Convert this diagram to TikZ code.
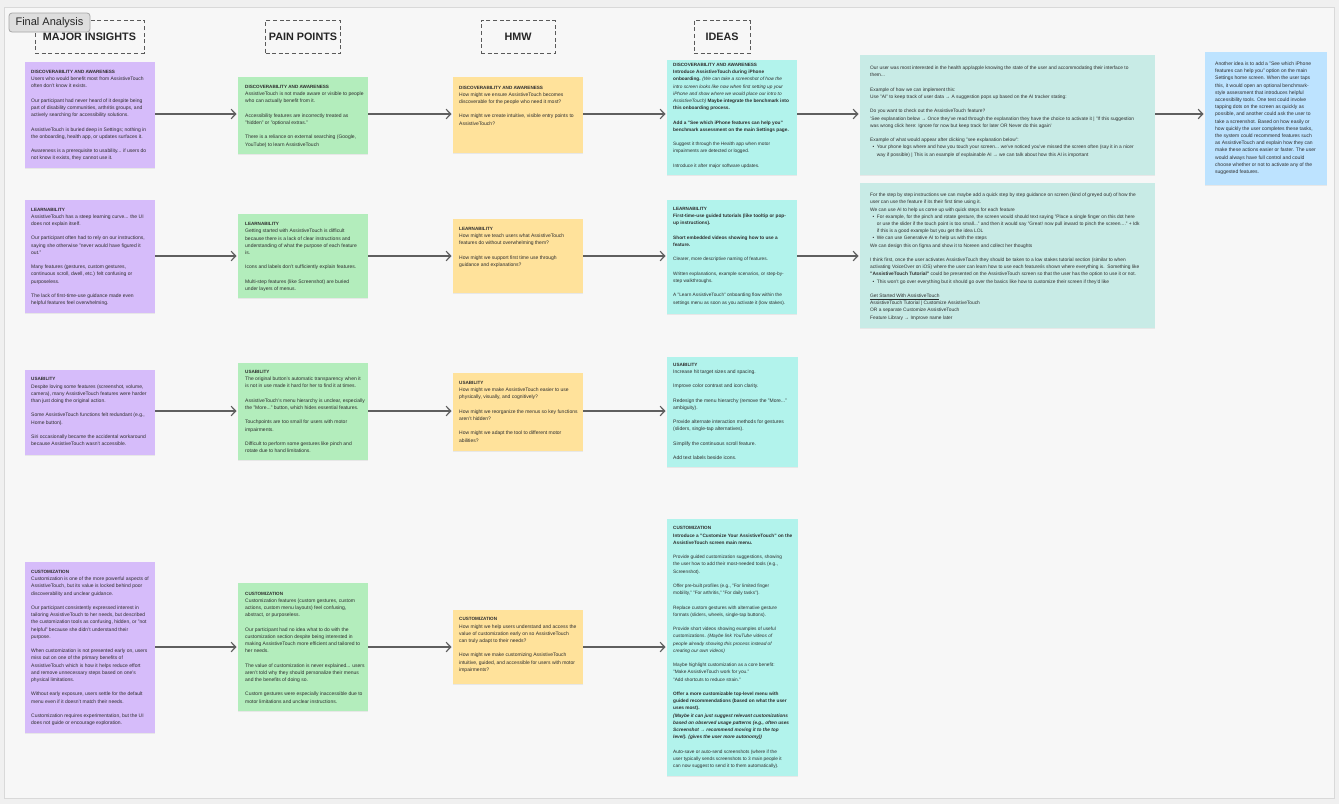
\documentclass[tikz,border=0pt]{standalone}
\usepackage{fontspec}
\setmainfont{Liberation Sans}
\usetikzlibrary{arrows.meta,shadows}
\definecolor{bgc}{RGB}{240,240,240}
\definecolor{canvasc}{RGB}{247,247,247}
\definecolor{purp}{RGB}{214,188,250}
\definecolor{grn}{RGB}{179,237,188}
\definecolor{yel}{RGB}{255,226,155}
\definecolor{cyn}{RGB}{178,243,236}
\definecolor{tea}{RGB}{200,235,230}
\definecolor{blu}{RGB}{189,227,255}
\definecolor{txt}{RGB}{45,45,45}
\definecolor{arr}{RGB}{95,95,95}
\definecolor{hdr}{RGB}{90,90,90}
\newcommand\pgap{\\[7.2pt]}
\newcommand\nhd[1]{{\fontsize{4.6}{7.2}\selectfont\bfseries #1}}
\newcommand\bul{\hspace*{2.3pt}•\hspace*{2.7pt}}
\newcommand\bcont{\hspace*{6.7pt}}
\tikzset{
  sticky/.style={anchor=north west, inner sep=0pt, outer sep=0pt, draw=none,
    drop shadow={opacity=0.13, shadow xshift=0.4pt, shadow yshift=-1.2pt}},
  notetext/.style={anchor=north west, inner sep=0pt, align=left, text=txt,
    font=\fontsize{5.0}{7.2}\selectfont},
  widetext/.style={notetext, font=\fontsize{4.85}{7.2}\selectfont},
  idtext/.style={notetext, font=\fontsize{4.75}{7.2}\selectfont},
  hdrbox/.style={draw=hdr, line width=1pt, dash pattern=on 4pt off 2.6pt,
    font=\fontsize{10.8}{13}\selectfont\bfseries, text=black!85,
    minimum height=33pt, inner sep=0pt},
  falabel/.style={draw=black!35, fill=black!13, rounded corners=3pt, line width=0.8pt,
    minimum width=81pt, minimum height=19pt, inner sep=0pt,
    font=\fontsize{11}{13}\selectfont, text=black!85},
  flow/.style={draw=arr, line width=1.2pt,
    -{Straight Barb[length=4.5pt,width=9.5pt,line width=1.2pt]}, shorten >=1.5pt}
}
\begin{document}
\begin{tikzpicture}[x=1pt,y=-1pt]
\useasboundingbox (0,0) rectangle (1339,804);
\fill[bgc] (0,0) rectangle (1339,804);
\draw[black!15, fill=canvasc] (4,7) rectangle (1334,798);

% headers
\node[hdrbox, minimum width=109pt] (h1) at (89.5,36.5) {MAJOR INSIGHTS};
\node[hdrbox, minimum width=75pt] (h2) at (303,37) {PAIN POINTS};
\node[hdrbox, minimum width=74pt] (h3) at (518,37) {HMW};
\node[hdrbox, minimum width=56pt] (h4) at (722,37) {IDEAS};
\node[falabel] (fa) at (49.5,22.5) {Final Analysis};

% ===== column 1 : purple
\node[sticky, fill=purp, minimum width=130pt, minimum height=106pt] (p1) at (25,62) {};
\node[notetext] (p1t) at (31,70.1) {\nhd{DISCOVERABILITY AND AWARENESS}\\
Users who would benefit most from AssistiveTouch\\
often don't know it exists.\pgap
Our participant had never heard of it despite being\\
part of disability communities, arthritis groups, and\\
actively searching for accessibility solutions.\pgap
AssistiveTouch is buried deep in Settings; nothing in\\
the onboarding, health app, or updates surfaces it.\pgap
Awareness is a prerequisite to usability... if users do\\
not know it exists, they cannot use it.};

\node[sticky, fill=purp, minimum width=130pt, minimum height=113pt] (p2) at (25,200) {};
\node[notetext] (p2t) at (31,207.7) {\nhd{LEARNABILITY}\\
AssistiveTouch has a steep learning curve... the UI\\
does not explain itself.\pgap
Our participant often had to rely on our instructions,\\
saying she otherwise "never would have figured it\\
out."\pgap
Many features (gestures, custom gestures,\\
continuous scroll, dwell, etc.) felt confusing or\\
purposeless.\pgap
The lack of first-time-use guidance made even\\
helpful features feel overwhelming.};

\node[sticky, fill=purp, minimum width=130pt, minimum height=85pt] (p3) at (25,370) {};
\node[notetext] (p3t) at (31,377.4) {\nhd{USABILITY}\\
Despite loving some features (screenshot, volume,\\
camera), many AssistiveTouch features were harder\\
than just doing the original action.\pgap
Some AssistiveTouch functions felt redundant (e.g.,\\
Home button).\pgap
Siri occasionally became the accidental workaround\\
because AssistiveTouch wasn't accessible.};

\node[sticky, fill=purp, minimum width=130pt, minimum height=171pt] (p4) at (25,562) {};
\node[notetext] (p4t) at (31,570.1) {\nhd{CUSTOMIZATION}\\
Customization is one of the more powerful aspects of\\
AssistiveTouch, but its value is locked behind poor\\
discoverability and unclear guidance.\pgap
Our participant consistently expressed interest in\\
tailoring AssistiveTouch to her needs, but described\\
the customization tools as confusing, hidden, or "not\\
helpful" because she didn't understand their\\
purpose.\pgap
When customization is not presented early on, users\\
miss out on one of the primary benefits of\\
AssistiveTouch which is how it helps reduce effort\\
and remove unnecessary steps based on one's\\
physical limitations.\pgap
Without early exposure, users settle for the default\\
menu even if it doesn't match their needs.\pgap
Customization requires experimentation, but the UI\\
does not guide or encourage exploration.};

% ===== column 2 : green
\node[sticky, fill=grn, minimum width=130pt, minimum height=77pt] (g1) at (238,77) {};
\node[notetext] (g1t) at (245,85.1) {\nhd{DISCOVERABILITY AND AWARENESS}\\
AssistiveTouch is not made aware or visible to people\\
who can actually benefit from it.\pgap
Accessibility features are incorrectly treated as\\
"hidden" or "optional extras."\pgap
There is a reliance on external searching (Google,\\
YouTube) to learn AssistiveTouch};

\node[sticky, fill=grn, minimum width=130pt, minimum height=84pt] (g2) at (238,214) {};
\node[notetext] (g2t) at (245,222.4) {\nhd{LEARNABILITY}\\
Getting started with AssistiveTouch is difficult\\
because there is a lack of clear instructions and\\
understanding of what the purpose of each feature\\
is.\pgap
Icons and labels don't sufficiently explain features.\pgap
Multi-step features (like Screenshot) are buried\\
under layers of menus.};

\node[sticky, fill=grn, minimum width=130pt, minimum height=97pt] (g3) at (238,363) {};
\node[notetext] (g3t) at (245,370.1) {\nhd{USABILITY}\\
The original button's automatic transparency when it\\
is not in use made it hard for her to find it at times.\pgap
AssistiveTouch's menu hierarchy is unclear, especially\\
the "More..." button, which hides essential features.\pgap
Touchpoints are too small for users with motor\\
impairments.\pgap
Difficult to perform some gestures like pinch and\\
rotate due to hand limitations.};

\node[sticky, fill=grn, minimum width=130pt, minimum height=128pt] (g4) at (238,583) {};
\node[notetext] (g4t) at (245,591.7) {\nhd{CUSTOMIZATION}\\
Customization features (custom gestures, custom\\
actions, custom menu layouts) feel confusing,\\
abstract, or purposeless.\pgap
Our participant had no idea what to do with the\\
customization section despite being interested in\\
making AssistiveTouch more efficient and tailored to\\
her needs.\pgap
The value of customization is never explained... users\\
aren't told why they should personalize their menus\\
and the benefits of doing so.\pgap
Custom gestures were especially inaccessible due to\\
motor limitations and unclear instructions.};

% ===== column 3 : yellow
\node[sticky, fill=yel, minimum width=130pt, minimum height=76pt] (y1) at (453,77) {};
\node[notetext] (y1t) at (459,85.7) {\nhd{DISCOVERABILITY AND AWARENESS}\\
How might we ensure AssistiveTouch becomes\\
discoverable for the people who need it most?\pgap
How might we create intuitive, visible entry points to\\
AssistiveTouch?};

\node[sticky, fill=yel, minimum width=130pt, minimum height=74pt] (y2) at (453,219) {};
\node[notetext] (y2t) at (459,227) {\nhd{LEARNABILITY}\\
How might we teach users what AssistiveTouch\\
features do without overwhelming them?\pgap
How might we support first time use through\\
guidance and explanations?};

\node[sticky, fill=yel, minimum width=130pt, minimum height=78pt] (y3) at (453,373) {};
\node[notetext] (y3t) at (459,381.1) {\nhd{USABILITY}\\
How might we make AssistiveTouch easier to use\\
physically, visually, and cognitively?\pgap
How might we reorganize the menus so key functions\\
aren't hidden?\pgap
How might we adapt the tool to different motor\\
abilities?};

\node[sticky, fill=yel, minimum width=130pt, minimum height=74pt] (y4) at (453,610) {};
\node[notetext] (y4t) at (459,617.4) {\nhd{CUSTOMIZATION}\\
How might we help users understand and access the\\
value of customization early on so AssistiveTouch\\
can truly adapt to their needs?\pgap
How might we make customizing AssistiveTouch\\
intuitive, guided, and accessible for users with motor\\
impairments?};

% ===== column 4 : cyan
\node[sticky, fill=cyn, minimum width=130pt, minimum height=115pt] (c1) at (667,60) {};
\node[idtext] (c1t) at (673,63.1) {\nhd{DISCOVERABILITY AND AWARENESS}\\
\textbf{Introduce AssistiveTouch during iPhone}\\
\textbf{onboarding.} \textit{(We can take a screenshot of how the}\\
\textit{intro screen looks like now when first setting up your}\\
\textit{iPhone and show where we would place our intro to}\\
\textit{AssistiveTouch)} \textbf{Maybe integrate the benchmark into}\\
\textbf{this onboarding process.}\pgap
\textbf{Add a "See which iPhone features can help you"}\\
\textbf{benchmark assessment on the main Settings page.}\pgap
Suggest it through the Health app when motor\\
impairments are detected or logged.\pgap
Introduce it after major software updates.};

\node[sticky, fill=cyn, minimum width=130pt, minimum height=114pt] (c2) at (667,200) {};
\node[idtext] (c2t) at (673,207.1) {\nhd{LEARNABILITY}\\
\textbf{First-time-use guided tutorials (like tooltip or pop-}\\
\textbf{up instructions).}\pgap
\textbf{Short embedded videos showing how to use a}\\
\textbf{feature.}\pgap
Clearer, more descriptive naming of features.\pgap
Written explanations, example scenarios, or step-by-\\
step walkthroughs.\pgap
A "Learn AssistiveTouch" onboarding flow within the\\
settings menu as soon as you activate it (low stakes).};

\node[sticky, fill=cyn, minimum width=131pt, minimum height=110pt] (c3) at (667,357) {};
\node[notetext] (c3t) at (673,362.7) {\nhd{USABILITY}\\
Increase hit target sizes and spacing.\pgap
Improve color contrast and icon clarity.\pgap
Redesign the menu hierarchy (remove the "More..."\\
ambiguity).\pgap
Provide alternate interaction methods for gestures\\
(sliders, single-tap alternatives).\pgap
Simplify the continuous scroll feature.\pgap
Add text labels beside icons.};

\node[sticky, fill=cyn, minimum width=131pt, minimum height=257pt] (c4) at (667,519) {};
\node[idtext] (c4t) at (673,526.4) {\nhd{CUSTOMIZATION}\\
\textbf{Introduce a "Customize Your AssistiveTouch" on the}\\
\textbf{AssistiveTouch screen main menu.}\pgap
Provide guided customization suggestions, showing\\
the user how to add their most-needed tools (e.g.,\\
Screenshot).\pgap
Offer pre-built profiles (e.g., "For limited finger\\
mobility," "For arthritis," "For daily tasks").\pgap
Replace custom gestures with alternative gesture\\
formats (sliders, wheels, single-tap buttons).\pgap
Provide short videos showing examples of useful\\
customizations. \textit{(Maybe link YouTube videos of}\\
\textit{people already showing this process instead of}\\
\textit{creating our own videos)}\pgap
Maybe highlight customization as a core benefit:\\
"Make AssistiveTouch work for you."\\
"Add shortcuts to reduce strain."\pgap
\textbf{Offer a more customizable top-level menu with}\\
\textbf{guided recommendations (based on what the user}\\
\textbf{uses most).}\\
\textbf{\textit{(Maybe it can just suggest relevant customizations}}\\
\textbf{\textit{based on observed usage patterns (e.g., often uses}}\\
\textbf{\textit{Screenshot → recommend moving it to the top}}\\
\textbf{\textit{level). (gives the user more autonomy))}}\pgap
Auto-save or auto-send screenshots (where if the\\
user typically sends screenshots to 3 main people it\\
can now suggest to send it to them automatically).};

% ===== column 5 : teal
\node[sticky, fill=tea, minimum width=295pt, minimum height=120pt] (t1) at (860,55) {};
\node[widetext] (t1t) at (870,66) {Our user was most interested in the health app/apple knowing the state of the user and accommodating their interface to\\
them...\pgap
Example of how we can implement this:\\
Use "AI" to keep track of user data → A suggestion pops up based on the AI tracker stating:\pgap
Do you want to check out the AssistiveTouch feature?\\
'See explanation below → Once they've read through the explanation they have the choice to activate it | "If this suggestion\\
was wrong click here: Ignore for now but keep track for later OR Never do this again'\pgap
Example of what would appear after clicking "see explanation below":\\
\bul Your phone logs where and how you touch your screen... we've noticed you've missed the screen often (say it in a nicer\\
\bcont way if possible) | This is an example of explainable AI → we can talk about how this AI is important};

\node[sticky, fill=tea, minimum width=295pt, minimum height=145pt] (t2) at (860,183) {};
\node[widetext] (t2t) at (870,193) {For the step by step instructions we can maybe add a quick step by step guidance on screen (kind of greyed out) of how the\\
user can use the feature if its their first time using it.\\
We can use AI to help us come up with quick steps for each feature\\
\bul For example, for the pinch and rotate gesture, the screen would should text saying "Place a single finger on this dot here\\
\bcont or use the slider if the touch point is too small..." and then it would say "Great! now pull inward to pinch the screen...." + Idk\\
\bcont if this is a good example but you get the idea LOL\\
\bul We can use Generative AI to help us with the steps\\
We can design this on figma and show it to Noreen and collect her thoughts\pgap
I think first, once the user activates AssistiveTouch they should be taken to a low stakes tutorial section (similar to when\\
activating VoiceOver on iOS) where the user can learn how to use each feature/is shown where everything is.\ \ Something like\\
\textbf{"AssistiveTouch Tutorial"} could be presented on the AssistiveTouch screen so that the user has the option to use it or not.\\
\bul This won't go over everything but it should go over the basics like how to customize their screen if they'd like\pgap
\underline{Get Started With AssistiveTouch}\\
AssistiveTouch Tutorial | Customize AssistiveTouch\\
OR a separate Customize AssistiveTouch\\
Feature Library → Improve name later};

% ===== column 6 : blue
\node[sticky, fill=blu, minimum width=122pt, minimum height=133pt] (b1) at (1205,52) {};
\node[notetext] (b1t) at (1215,61.7) {Another idea is to add a "See which iPhone\\
features can help you" option on the main\\
Settings home screen. When the user taps\\
this, it would open an optional benchmark-\\
style assessment that introduces helpful\\
accessibility tools. One test could involve\\
tapping dots on the screen as quickly as\\
possible, and another could ask the user to\\
take a screenshot. Based on how easily or\\
how quickly the user completes these tasks,\\
the system could recommend features such\\
as AssistiveTouch and explain how they can\\
make these actions easier or faster. The user\\
would always have full control and could\\
choose whether or not to activate any of the\\
suggested features.};

% ===== connectors
\coordinate (r1) at (0,114);
\coordinate (r2) at (0,256);
\coordinate (r3) at (0,411);
\coordinate (r4) at (0,647);
\draw[flow] (p1.east |- r1) -- (g1.west |- r1);
\draw[flow] (g1.east |- r1) -- (y1.west |- r1);
\draw[flow] (y1.east |- r1) -- (c1.west |- r1);
\draw[flow] (c1.east |- r1) -- (t1.west |- r1);
\draw[flow] (t1.east |- r1) -- (b1.west |- r1);
\draw[flow] (p2.east |- r2) -- (g2.west |- r2);
\draw[flow] (g2.east |- r2) -- (y2.west |- r2);
\draw[flow] (y2.east |- r2) -- (c2.west |- r2);
\draw[flow] (c2.east |- r2) -- (t2.west |- r2);
\draw[flow] (p3.east |- r3) -- (g3.west |- r3);
\draw[flow] (g3.east |- r3) -- (y3.west |- r3);
\draw[flow] (y3.east |- r3) -- (c3.west |- r3);
\draw[flow] (p4.east |- r4) -- (g4.west |- r4);
\draw[flow] (g4.east |- r4) -- (y4.west |- r4);
\draw[flow] (y4.east |- r4) -- (c4.west |- r4);
\end{tikzpicture}
\end{document}
